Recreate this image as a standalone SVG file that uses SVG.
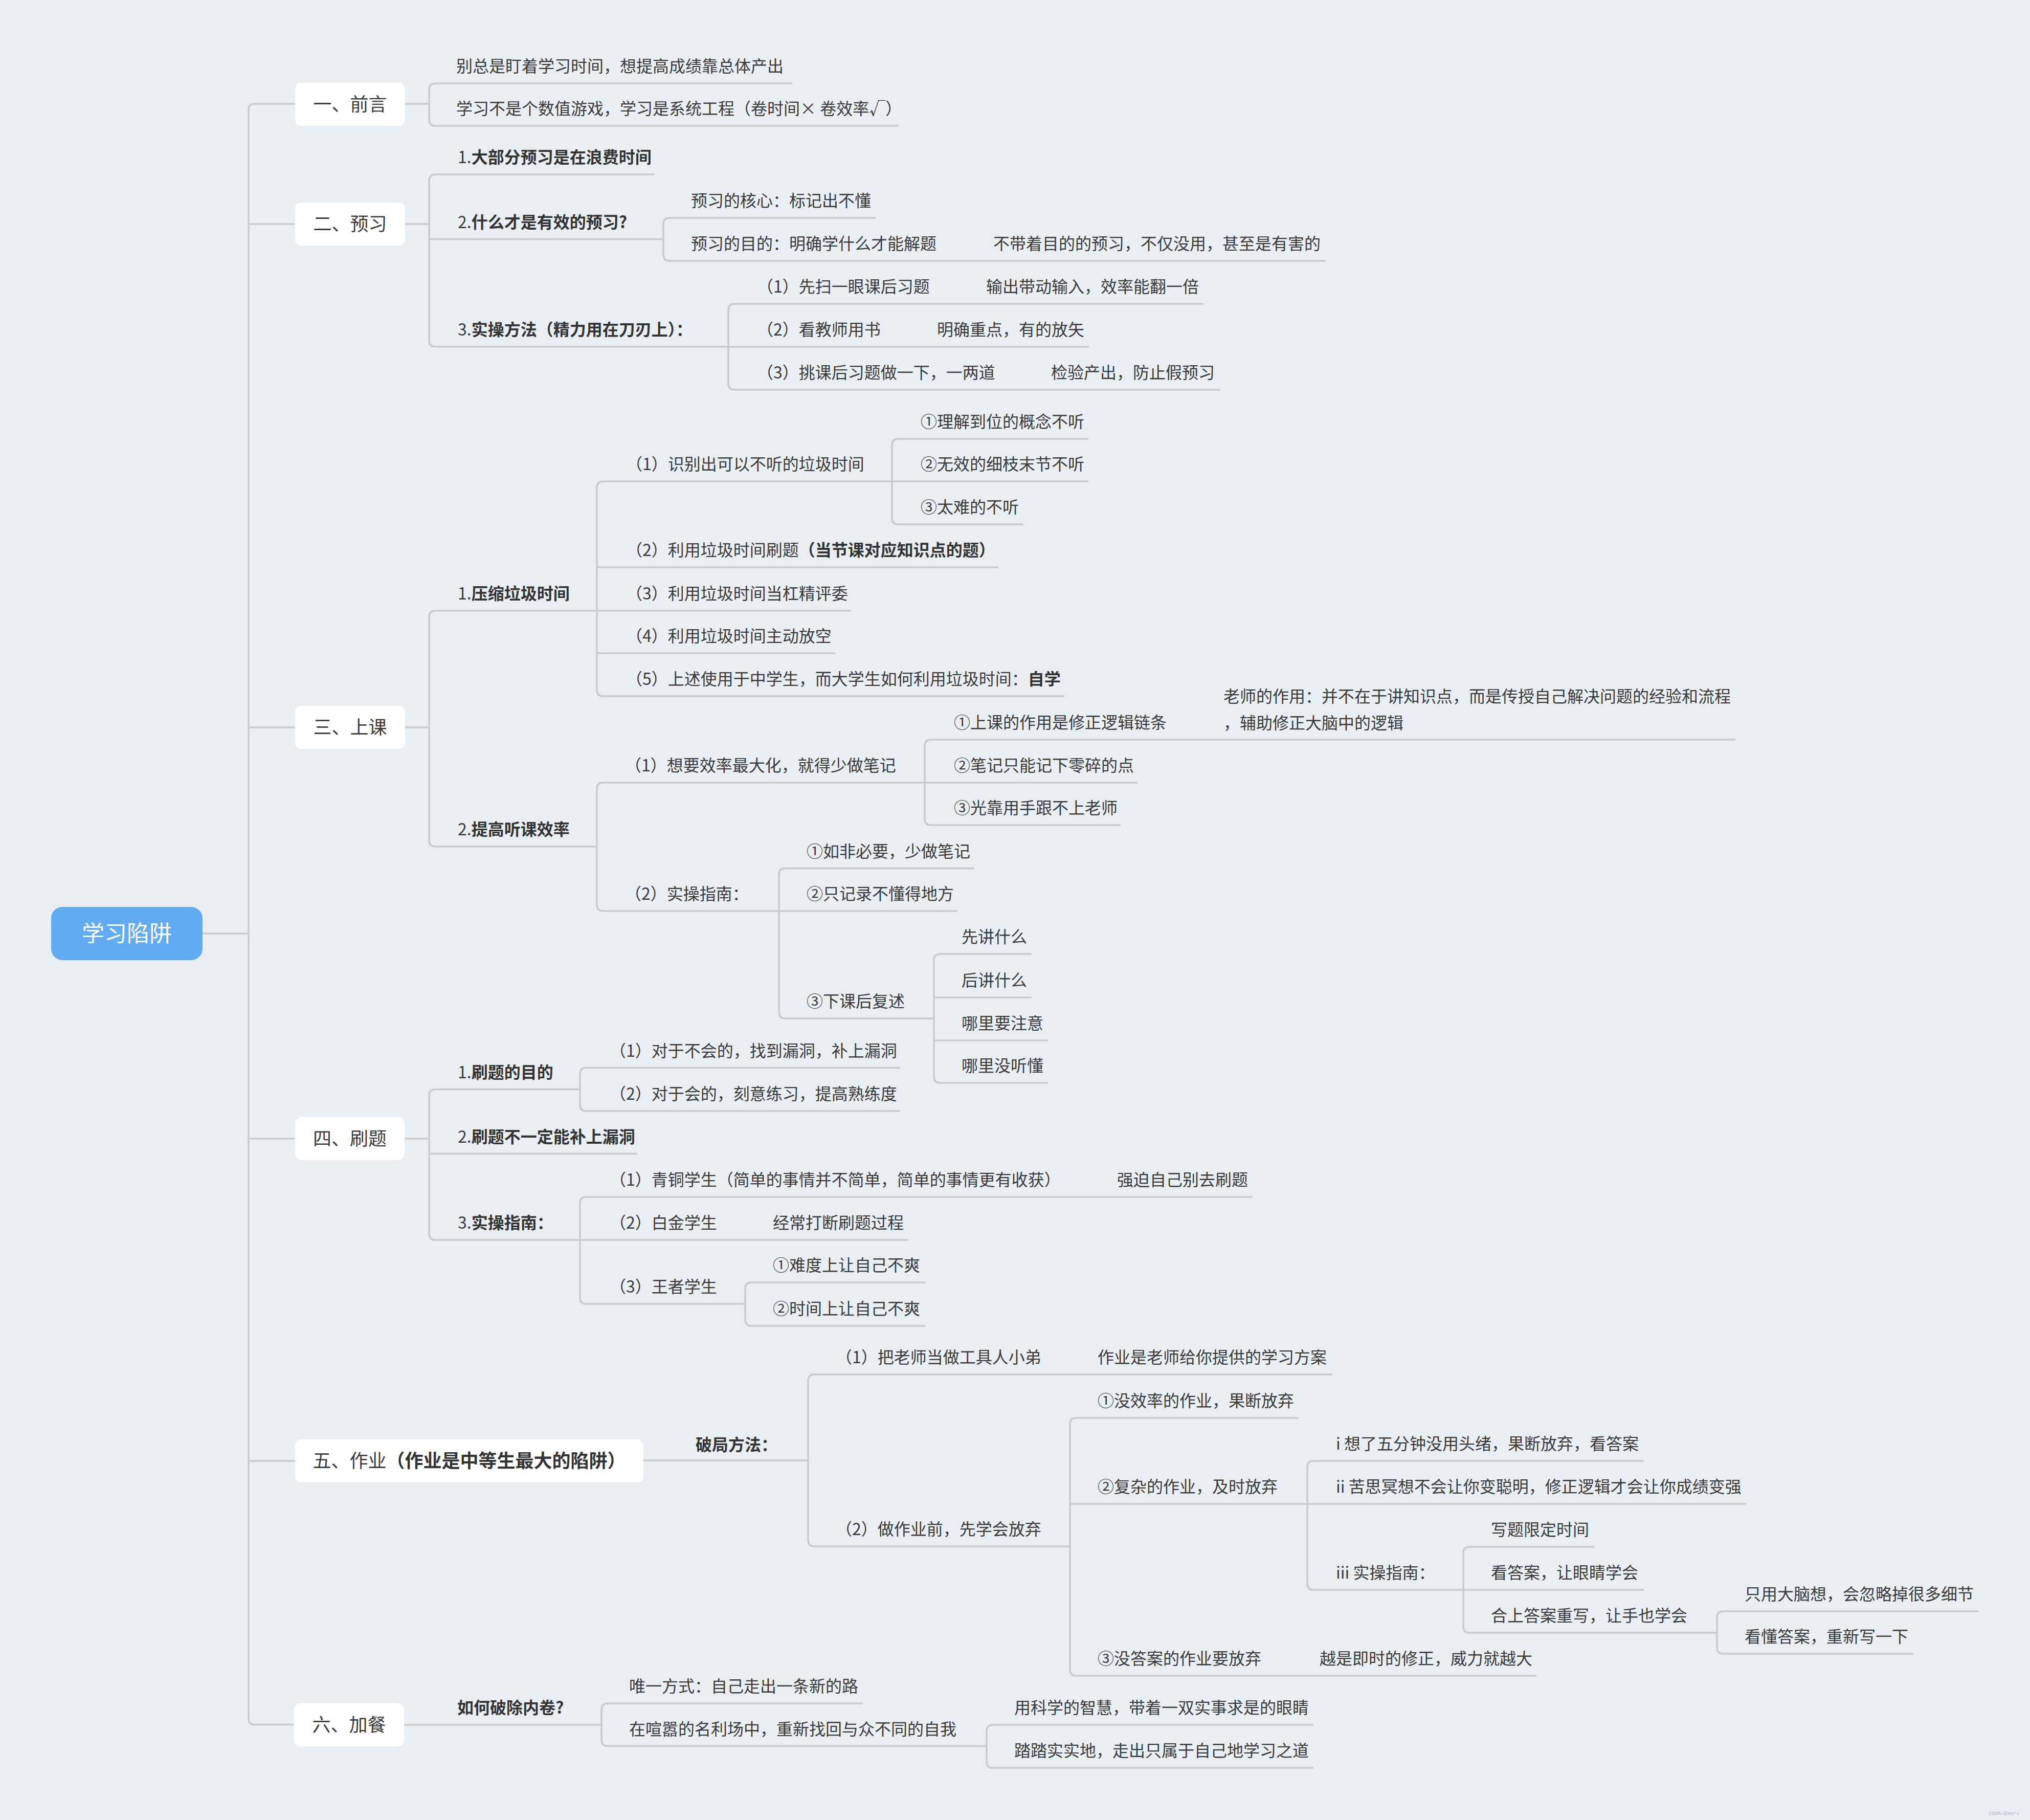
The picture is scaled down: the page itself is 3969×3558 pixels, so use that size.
<svg xmlns="http://www.w3.org/2000/svg" width="3969" height="3558" viewBox="0 0 3969 3558">
<defs>
<style>
.bg{fill:#e9eef2}
.ln{fill:none;stroke:#c9cacd;stroke-width:3.5}
.u{stroke:#c9cacd;stroke-width:3.5}
.t{font-family:"Noto Sans CJK SC","Noto Sans",sans-serif;font-size:32px;fill:#3a3a3a}
.b{font-weight:bold;fill:#333}
.box{fill:#ffffff}
.bt{font-family:"Noto Sans CJK SC","Noto Sans",sans-serif;font-size:36px;fill:#3a3a3a;text-anchor:middle}
.wm{font-family:"Liberation Sans",sans-serif;font-size:9px;fill:#aab0b6}
</style>
</defs>
<rect class="bg" x="0" y="0" width="3969" height="3558"/>

<g id="connectors" class="ln">
<path d="M577 203 H498 Q486 203 486 215 V3359.5 Q486 3371.5 498 3371.5 H575"/>
<path d="M486 438 H577 M486 1422 H577 M486 2226 H577 M486 2856 H577 M396 1825 H486"/>
<path d="M792 203 H839 M851 163 Q839 163 839 175 V234 Q839 246 851 246"/>
<path d="M792 438 H839 M851 341 Q839 341 839 353 V665.7 Q839 677.7 851 677.7"/>
<path d="M1309 426 Q1297 426 1297 438 V498 Q1297 510 1309 510"/>
<path d="M1436 594 Q1424 594 1424 606 V750 Q1424 762 1436 762"/>
<path d="M792 1422 H839 M851 1194 Q839 1194 839 1206 V1643 Q839 1655 851 1655"/>
<path d="M1179 941 Q1167 941 1167 953 V1349 Q1167 1361 1179 1361"/>
<path d="M1756 858 Q1744 858 1744 870 V1013 Q1744 1025 1756 1025"/>
<path d="M1179 1530 Q1167 1530 1167 1542 V1769 Q1167 1781 1179 1781"/>
<path d="M1820 1446 Q1808 1446 1808 1458 V1601 Q1808 1613 1820 1613"/>
<path d="M1535 1697.5 Q1523 1697.5 1523 1709.5 V1979 Q1523 1991 1535 1991"/>
<path d="M1838 1865 Q1826 1865 1826 1877 V2105 Q1826 2117 1838 2117"/>
<path d="M791 2226 H839 M851 2129.5 Q839 2129.5 839 2141.5 V2412 Q839 2424 851 2424"/>
<path d="M1146 2087.5 Q1134 2087.5 1134 2099.5 V2160 Q1134 2172 1146 2172"/>
<path d="M1146 2340 Q1134 2340 1134 2352 V2537 Q1134 2549 1146 2549"/>
<path d="M1469 2507 Q1457 2507 1457 2519 V2580 Q1457 2592 1469 2592"/>
<path d="M1592 2687 Q1580 2687 1580 2699 V3011 Q1580 3023 1592 3023"/>
<path d="M2104 2772 Q2092 2772 2092 2784 V3264 Q2092 3276 2104 3276"/>
<path d="M2568 2856 Q2556 2856 2556 2868 V3096 Q2556 3108 2568 3108"/>
<path d="M2873 3024 Q2861 3024 2861 3036 V3180 Q2861 3192 2873 3192"/>
<path d="M3369 3150 Q3357 3150 3357 3162 V3221 Q3357 3233 3369 3233"/>
<path d="M1188 3330 Q1176 3330 1176 3342 V3401.5 Q1176 3413.5 1188 3413.5"/>
<path d="M1941 3372 Q1929 3372 1929 3384 V3444 Q1929 3456 1941 3456"/>
</g>

<g id="root">
<rect x="100" y="1773" width="296" height="104" rx="22" fill="#62aaf2"/>
<text x="248" y="1841" font-family="Noto Sans CJK SC, Noto Sans, sans-serif" font-size="44" fill="#ffffff" text-anchor="middle">学习陷阱</text>
</g>

<g id="s1"><rect class="box" x="577" y="162" width="215" height="84" rx="12"/><text class="bt" x="684.5" y="217">一、前言</text></g>
<g id="s2"><rect class="box" x="577" y="396" width="215" height="84" rx="12"/><text class="bt" x="684.5" y="451">二、预习</text></g>
<g id="s3"><rect class="box" x="577" y="1380" width="215" height="84" rx="12"/><text class="bt" x="684.5" y="1435">三、上课</text></g>
<g id="s4"><rect class="box" x="577" y="2184" width="214" height="84" rx="12"/><text class="bt" x="684" y="2239">四、刷题</text></g>
<g id="s5"><rect class="box" x="577" y="2814" width="681" height="84" rx="12"/><text class="bt" x="917.5" y="2869">五、作业<tspan class="b">（作业是中等生最大的陷阱）</tspan></text></g>
<g id="s6"><rect class="box" x="575" y="3330" width="215" height="84" rx="12"/><text class="bt" x="682.5" y="3384.5">六、加餐</text></g>

<g id="a1"><line class="u" x1="851" y1="163" x2="1549" y2="163"/><text class="t" x="892" y="141">别总是盯着学习时间，想提高成绩靠总体产出</text></g>
<g id="a2"><line class="u" x1="851" y1="246" x2="1757" y2="246"/><text class="t" x="892" y="224">学习不是个数值游戏，学习是系统工程（卷时间× 卷效率√）</text></g>

<g id="b1"><line class="u" x1="851" y1="341" x2="1280" y2="341"/><text class="t" x="895" y="319">1.<tspan class="b">大部分预习是在浪费时间</tspan></text></g>
<g id="b2"><line class="u" x1="839" y1="467.5" x2="1297" y2="467.5"/><text class="t" x="895" y="445.5">2.<tspan class="b">什么才是有效的预习?</tspan></text></g>
<g id="b2a"><line class="u" x1="1309" y1="426" x2="1712" y2="426"/><text class="t" x="1351" y="404">预习的核心：标记出不懂</text></g>
<g id="b2b"><line class="u" x1="1309" y1="510" x2="2592" y2="510"/><text class="t" x="1351" y="488">预习的目的：明确学什么才能解题</text><text class="t" x="1942" y="488">不带着目的的预习，不仅没用，甚至是有害的</text></g>
<g id="b3"><line class="u" x1="851" y1="677.7" x2="1424" y2="677.7"/><text class="t" x="895" y="656">3.<tspan class="b">实操方法（精力用在刀刃上）：</tspan></text></g>
<g id="b3a"><line class="u" x1="1436" y1="594" x2="2353" y2="594"/><text class="t" x="1480" y="572">（1）先扫一眼课后习题</text><text class="t" x="1928" y="572">输出带动输入，效率能翻一倍</text></g>
<g id="b3b"><line class="u" x1="1424" y1="678" x2="2129" y2="678"/><text class="t" x="1480" y="656">（2）看教师用书</text><text class="t" x="1832" y="656">明确重点，有的放矢</text></g>
<g id="b3c"><line class="u" x1="1436" y1="762" x2="2386" y2="762"/><text class="t" x="1480" y="740">（3）挑课后习题做一下，一两道</text><text class="t" x="2055" y="740">检验产出，防止假预习</text></g>

<g id="c1"><line class="u" x1="851" y1="1194" x2="1167" y2="1194"/><text class="t" x="895" y="1172">1.<tspan class="b">压缩垃圾时间</tspan></text></g>
<g id="c1a"><line class="u" x1="1179" y1="941" x2="1744" y2="941"/><text class="t" x="1224" y="919">（1）识别出可以不听的垃圾时间</text></g>
<g id="c1a1"><line class="u" x1="1756" y1="858" x2="2128" y2="858"/><text class="t" x="1800" y="836">①理解到位的概念不听</text></g>
<g id="c1a2"><line class="u" x1="1744" y1="941" x2="2128" y2="941"/><text class="t" x="1800" y="919">②无效的细枝末节不听</text></g>
<g id="c1a3"><line class="u" x1="1756" y1="1025" x2="2001" y2="1025"/><text class="t" x="1800" y="1003">③太难的不听</text></g>
<g id="c1b"><line class="u" x1="1167" y1="1109" x2="1952" y2="1109"/><text class="t" x="1224" y="1087">（2）利用垃圾时间刷题<tspan class="b">（当节课对应知识点的题）</tspan></text></g>
<g id="c1c"><line class="u" x1="1167" y1="1194" x2="1664" y2="1194"/><text class="t" x="1224" y="1172">（3）利用垃圾时间当杠精评委</text></g>
<g id="c1d"><line class="u" x1="1167" y1="1277" x2="1633" y2="1277"/><text class="t" x="1224" y="1255">（4）利用垃圾时间主动放空</text></g>
<g id="c1e"><line class="u" x1="1179" y1="1361" x2="2081" y2="1361"/><text class="t" x="1224" y="1339">（5）上述使用于中学生，而大学生如何利用垃圾时间：<tspan class="b">自学</tspan></text></g>

<g id="c2"><line class="u" x1="851" y1="1655" x2="1167" y2="1655"/><text class="t" x="895" y="1633">2.<tspan class="b">提高听课效率</tspan></text></g>
<g id="c2a"><line class="u" x1="1179" y1="1530" x2="1808" y2="1530"/><text class="t" x="1222" y="1508">（1）想要效率最大化，就得少做笔记</text></g>
<g id="c2a1"><line class="u" x1="1820" y1="1446" x2="3393" y2="1446"/><text class="t" x="1865" y="1424">①上课的作用是修正逻辑链条</text><text class="t" x="2392" y="1373">老师的作用：并不在于讲知识点，而是传授自己解决问题的经验和流程</text><text class="t" x="2392" y="1425">，辅助修正大脑中的逻辑</text></g>
<g id="c2a2"><line class="u" x1="1808" y1="1530" x2="2224" y2="1530"/><text class="t" x="1865" y="1508">②笔记只能记下零碎的点</text></g>
<g id="c2a3"><line class="u" x1="1820" y1="1613" x2="2191" y2="1613"/><text class="t" x="1865" y="1591">③光靠用手跟不上老师</text></g>
<g id="c2b"><line class="u" x1="1179" y1="1781" x2="1523" y2="1781"/><text class="t" x="1222" y="1759">（2）实操指南：</text></g>
<g id="c2b1"><line class="u" x1="1535" y1="1697.5" x2="1905" y2="1697.5"/><text class="t" x="1577" y="1675.5">①如非必要，少做笔记</text></g>
<g id="c2b2"><line class="u" x1="1523" y1="1781" x2="1872" y2="1781"/><text class="t" x="1577" y="1759">②只记录不懂得地方</text></g>
<g id="c2b3"><line class="u" x1="1535" y1="1991" x2="1826" y2="1991"/><text class="t" x="1577" y="1969">③下课后复述</text></g>
<g id="c2b3a"><line class="u" x1="1838" y1="1865" x2="2017" y2="1865"/><text class="t" x="1880" y="1843">先讲什么</text></g>
<g id="c2b3b"><line class="u" x1="1826" y1="1950" x2="2017" y2="1950"/><text class="t" x="1880" y="1928">后讲什么</text></g>
<g id="c2b3c"><line class="u" x1="1826" y1="2034" x2="2049" y2="2034"/><text class="t" x="1880" y="2012">哪里要注意</text></g>
<g id="c2b3d"><line class="u" x1="1838" y1="2117" x2="2049" y2="2117"/><text class="t" x="1880" y="2095">哪里没听懂</text></g>

<g id="d1"><line class="u" x1="851" y1="2129.5" x2="1134" y2="2129.5"/><text class="t" x="895" y="2107.5">1.<tspan class="b">刷题的目的</tspan></text></g>
<g id="d1a"><line class="u" x1="1146" y1="2087.5" x2="1760" y2="2087.5"/><text class="t" x="1192" y="2065.5">（1）对于不会的，找到漏洞，补上漏洞</text></g>
<g id="d1b"><line class="u" x1="1146" y1="2172" x2="1760" y2="2172"/><text class="t" x="1192" y="2150">（2）对于会的，刻意练习，提高熟练度</text></g>
<g id="d2"><line class="u" x1="839" y1="2255.6" x2="1246" y2="2255.6"/><text class="t" x="895" y="2233.6">2.<tspan class="b">刷题不一定能补上漏洞</tspan></text></g>
<g id="d3"><line class="u" x1="851" y1="2424" x2="1134" y2="2424"/><text class="t" x="895" y="2402">3.<tspan class="b">实操指南：</tspan></text></g>
<g id="d3a"><line class="u" x1="1146" y1="2340" x2="2449" y2="2340"/><text class="t" x="1192" y="2318">（1）青铜学生（简单的事情并不简单，简单的事情更有收获）</text><text class="t" x="2184" y="2318">强迫自己别去刷题</text></g>
<g id="d3b"><line class="u" x1="1134" y1="2424" x2="1775" y2="2424"/><text class="t" x="1192" y="2402">（2）白金学生</text><text class="t" x="1511" y="2402">经常打断刷题过程</text></g>
<g id="d3c"><line class="u" x1="1146" y1="2549" x2="1457" y2="2549"/><text class="t" x="1192" y="2527">（3）王者学生</text></g>
<g id="d3c1"><line class="u" x1="1469" y1="2507" x2="1810" y2="2507"/><text class="t" x="1511" y="2485">①难度上让自己不爽</text></g>
<g id="d3c2"><line class="u" x1="1469" y1="2592" x2="1810" y2="2592"/><text class="t" x="1511" y="2570">②时间上让自己不爽</text></g>

<g id="e0"><line class="u" x1="1258" y1="2855" x2="1580" y2="2855"/><text class="t b" x="1360" y="2836">破局方法：</text></g>
<g id="e1"><line class="u" x1="1592" y1="2687" x2="2605" y2="2687"/><text class="t" x="1634" y="2665">（1）把老师当做工具人小弟</text><text class="t" x="2146" y="2665">作业是老师给你提供的学习方案</text></g>
<g id="e2"><line class="u" x1="1592" y1="3023" x2="2092" y2="3023"/><text class="t" x="1634" y="3001">（2）做作业前，先学会放弃</text></g>
<g id="e21"><line class="u" x1="2104" y1="2772" x2="2539" y2="2772"/><text class="t" x="2146" y="2750">①没效率的作业，果断放弃</text></g>
<g id="e22"><line class="u" x1="2092" y1="2940" x2="2556" y2="2940"/><text class="t" x="2146" y="2918">②复杂的作业，及时放弃</text></g>
<g id="e22i"><line class="u" x1="2568" y1="2856" x2="3214" y2="2856"/><text class="t" x="2612" y="2834">i 想了五分钟没用头绪，果断放弃，看答案</text></g>
<g id="e22ii"><line class="u" x1="2556" y1="2940" x2="3413" y2="2940"/><text class="t" x="2612" y="2918">ii 苦思冥想不会让你变聪明，修正逻辑才会让你成绩变强</text></g>
<g id="e22iii"><line class="u" x1="2568" y1="3108" x2="2861" y2="3108"/><text class="t" x="2612" y="3086">iii 实操指南：</text></g>
<g id="e22iii1"><line class="u" x1="2873" y1="3024" x2="3117" y2="3024"/><text class="t" x="2915" y="3002">写题限定时间</text></g>
<g id="e22iii2"><line class="u" x1="2861" y1="3108" x2="3214" y2="3108"/><text class="t" x="2915" y="3086">看答案，让眼睛学会</text></g>
<g id="e22iii3"><line class="u" x1="2873" y1="3192" x2="3357" y2="3192"/><text class="t" x="2915" y="3170">合上答案重写，让手也学会</text></g>
<g id="e22iii3a"><line class="u" x1="3369" y1="3150" x2="3868" y2="3150"/><text class="t" x="3411" y="3128">只用大脑想，会忽略掉很多细节</text></g>
<g id="e22iii3b"><line class="u" x1="3369" y1="3233" x2="3741" y2="3233"/><text class="t" x="3411" y="3211">看懂答案，重新写一下</text></g>
<g id="e23"><line class="u" x1="2104" y1="3276" x2="3004" y2="3276"/><text class="t" x="2146" y="3254">③没答案的作业要放弃</text><text class="t" x="2580" y="3254">越是即时的修正，威力就越大</text></g>

<g id="f0"><line class="u" x1="790" y1="3372" x2="1176" y2="3372"/><text class="t b" x="894" y="3350">如何破除内卷?</text></g>
<g id="f1"><line class="u" x1="1188" y1="3330" x2="1687" y2="3330"/><text class="t" x="1230" y="3308">唯一方式：自己走出一条新的路</text></g>
<g id="f2"><line class="u" x1="1188" y1="3413.5" x2="1929" y2="3413.5"/><text class="t" x="1230" y="3391.5">在喧嚣的名利场中，重新找回与众不同的自我</text></g>
<g id="f21"><line class="u" x1="1941" y1="3372" x2="2568" y2="3372"/><text class="t" x="1983" y="3350">用科学的智慧，带着一双实事求是的眼睛</text></g>
<g id="f22"><line class="u" x1="1941" y1="3456" x2="2568" y2="3456"/><text class="t" x="1983" y="3434">踏踏实实地，走出只属于自己地学习之道</text></g>

<g id="watermark"><text class="wm" x="3888" y="3548">CSDN @Mo*◑</text></g>
</svg>
